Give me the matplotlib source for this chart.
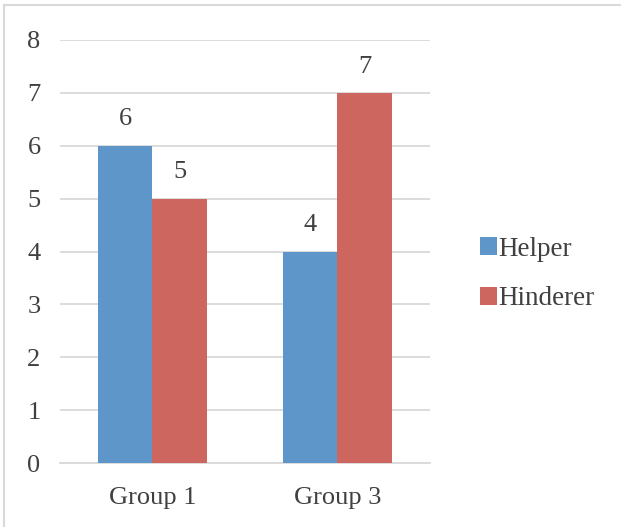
import matplotlib.pyplot as plt
import numpy as np
from matplotlib.patches import Patch, Rectangle

categories = ["Group 1", "Group 3"]
helper = [6, 4]
hinderer = [5, 7]
series_names = ["Helper", "Hinderer"]

blue = "#5F96CA"
red = "#CC665F"
text_color = "#404040"
grid_color = "#D9D9D9"

plt.rcParams['font.family'] = ['Liberation Serif', 'DejaVu Serif']

fig = plt.figure(figsize=(6.21, 5.27), dpi=100)
ax = fig.add_axes([0.0966, 0.1214, 0.5958, 0.8027])

x = np.arange(len(categories))
w = 0.295
b1 = ax.bar(x - w / 2, helper, w, color=blue, label=series_names[0], zorder=3)
b2 = ax.bar(x + w / 2, hinderer, w, color=red, label=series_names[1], zorder=3)

for bars, vals in ((b1, helper), (b2, hinderer)):
    for rect, v in zip(bars, vals):
        ax.annotate(str(v), (rect.get_x() + rect.get_width() / 2, v),
                    xytext=(0, 11), textcoords="offset points",
                    ha="center", va="bottom", fontsize=19, color=text_color)

ax.set_xlim(-0.5, len(categories) - 0.5)
ax.set_ylim(0, 8)
ax.set_yticks(range(0, 9))
ax.set_xticks(x)
ax.set_xticklabels(categories)
ax.yaxis.grid(True, color=grid_color, linewidth=1.3, zorder=0)
ax.tick_params(axis="both", length=0, labelsize=19, colors=text_color)
ax.tick_params(axis="y", pad=14)
ax.tick_params(axis="x", pad=17)
for s in ("top", "right", "left"):
    ax.spines[s].set_visible(False)
ax.spines["bottom"].set_color(grid_color)
ax.spines["bottom"].set_linewidth(1.3)

handles = [Patch(facecolor=blue), Patch(facecolor=red)]
leg = fig.legend(handles, series_names, loc="center left",
                 bbox_to_anchor=(0.733, 0.48), frameon=False, fontsize=19.5,
                 handlelength=0.65, handleheight=0.65, handletextpad=0.05,
                 labelspacing=0.9, labelcolor=text_color)

fig.patches.append(Rectangle((0.006, -0.01), 1.1, 1.0, transform=fig.transFigure,
                             fill=False, edgecolor="#D9D9D9", linewidth=1.5))

fig.savefig("out.png", dpi=100)
